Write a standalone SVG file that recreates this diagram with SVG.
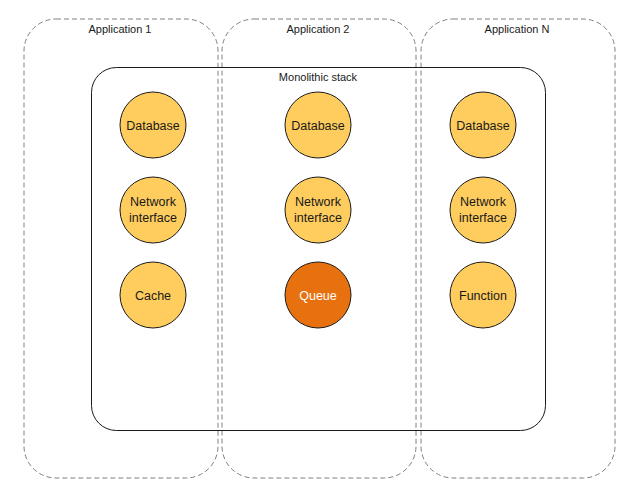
<svg xmlns="http://www.w3.org/2000/svg" width="639" height="498" viewBox="0 0 639 498">
<style>
.app{fill:none;stroke:#808080;stroke-width:1;stroke-dasharray:5 3}
.stack{fill:none;stroke:#1a1a1a;stroke-width:1}
.node{fill:#FFCC5E;stroke:#1a1a1a;stroke-width:1}
.hot{fill:#E8710F;stroke:#1a1a1a;stroke-width:1}
text{font-family:"Liberation Sans","Open Sans",sans-serif;text-anchor:middle}
.lbl{font-size:11px;fill:#1a1a1a}
.nt{font-size:12.5px;fill:#1a1a1a}
.wt{font-size:12.5px;fill:#ffffff}
</style>
<rect width="639" height="498" fill="#ffffff"/>
<g id="app1"><rect class="app" x="24" y="19" width="194" height="459" rx="32"/><text class="lbl" x="120" y="33">Application 1</text></g>
<g id="app2"><rect class="app" x="222" y="19" width="194" height="459" rx="32"/><text class="lbl" x="318" y="33">Application 2</text></g>
<g id="appN"><rect class="app" x="421" y="19" width="194" height="459" rx="32"/><text class="lbl" x="517" y="33">Application N</text></g>
<g id="stack"><rect class="stack" x="91.5" y="67.5" width="454" height="363" rx="25"/><text class="lbl" x="318" y="81">Monolithic stack</text></g>
<g id="db1"><circle class="node" cx="153" cy="125" r="33"/><text class="nt" x="153" y="129.5">Database</text></g>
<g id="db2"><circle class="node" cx="318" cy="125" r="33"/><text class="nt" x="318" y="129.5">Database</text></g>
<g id="db3"><circle class="node" cx="483" cy="125" r="33"/><text class="nt" x="483" y="129.5">Database</text></g>
<g id="net1"><circle class="node" cx="153" cy="210" r="33"/><text class="nt" x="153" y="206">Network</text><text class="nt" x="153" y="222">interface</text></g>
<g id="net2"><circle class="node" cx="318" cy="210" r="33"/><text class="nt" x="318" y="206">Network</text><text class="nt" x="318" y="222">interface</text></g>
<g id="net3"><circle class="node" cx="483" cy="210" r="33"/><text class="nt" x="483" y="206">Network</text><text class="nt" x="483" y="222">interface</text></g>
<g id="cache"><circle class="node" cx="153" cy="295" r="33"/><text class="nt" x="153" y="299.5">Cache</text></g>
<g id="queue"><circle class="hot" cx="318" cy="295" r="33"/><text class="wt" x="318" y="299.5">Queue</text></g>
<g id="function"><circle class="node" cx="483" cy="295" r="33"/><text class="nt" x="483" y="299.5">Function</text></g>
<g id="connectors"></g>
</svg>
